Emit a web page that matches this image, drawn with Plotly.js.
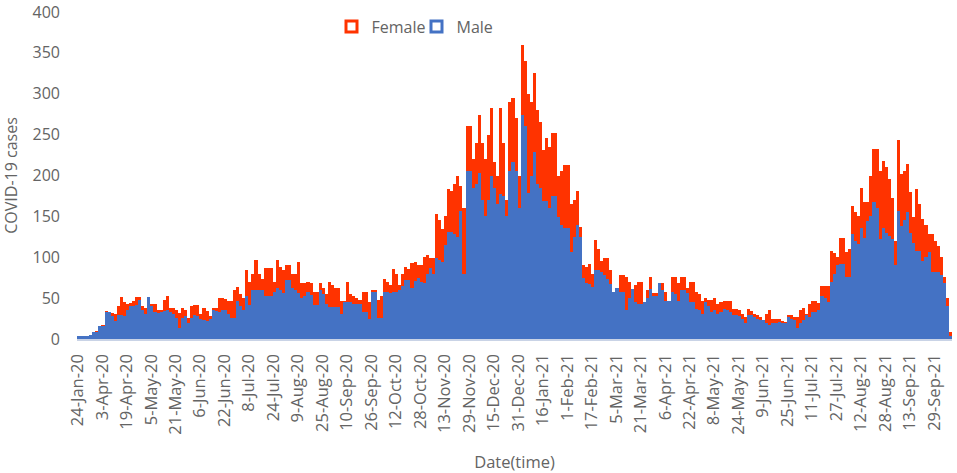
<!DOCTYPE html>
<html>
<head>
<meta charset="utf-8">
<script src="https://cdn.plot.ly/plotly-3.0.1.min.js"></script>
<style>html,body{margin:0;padding:0;background:#fff;}#chart{width:957px;height:473px;}</style>
</head>
<body>
<div id="chart"></div>
<script>
// Daily case counts in 2-day periods (one value per period)
const male = [
4,4,4,4,5,8,8,16,16,33,
33,28,22,29,29,28,36,40,40,41,
48,35,30,51,40,33,32,33,34,35,
33,31,26,13,26,28,19,26,29,28,
25,23,22,24,35,34,33,35,35,30,
26,26,47,40,35,52,42,60,60,60,
60,52,52,52,58,63,60,56,72,72,
62,60,56,50,52,57,54,42,42,60,
55,43,39,39,39,39,30,45,45,45,
43,43,43,33,33,25,57,57,26,26,
57,57,56,57,57,60,65,72,72,63,
71,75,70,68,80,87,80,99,97,94,
115,131,131,128,125,156,80,205,205,185,
190,203,170,151,170,200,185,165,177,175,
150,205,216,205,160,274,260,178,200,229,
190,185,169,169,160,175,175,149,140,136,
136,106,125,140,125,75,68,67,64,85,
84,82,78,74,67,58,63,58,58,35,
50,61,45,43,43,45,50,61,52,52,
68,60,47,47,58,55,47,60,60,56,
45,45,37,35,31,45,40,33,35,31,
33,37,35,33,29,29,28,25,19,29,
29,27,25,23,23,20,17,19,20,21,
19,19,27,25,23,13,20,23,29,27,
33,33,35,52,50,45,70,80,90,92,
92,76,76,128,120,116,136,124,144,150,
168,160,122,136,130,126,122,90,157,138,
145,155,130,118,108,108,96,100,106,82,
82,82,78,68,40,4
];
const female = [
0,0,0,0,0,0,2,0,1,1,
0,4,8,11,22,17,7,4,6,10,
3,5,8,0,3,10,4,2,14,18,
5,7,10,19,12,8,7,14,13,14,
5,15,12,4,3,4,17,15,14,16,
20,34,17,15,15,32,28,20,37,20,
14,35,35,35,12,34,28,29,18,18,
18,20,38,18,16,13,14,15,15,8,
7,12,31,27,23,23,17,2,25,10,
10,7,5,24,24,20,3,3,22,26,
17,13,10,29,23,6,15,16,14,30,
23,15,20,32,23,12,19,54,48,41,
35,52,50,62,74,31,80,55,55,35,
50,71,70,69,80,82,31,35,105,65,
20,85,79,65,40,86,80,122,90,96,
90,81,62,77,75,77,77,50,65,77,
77,59,45,41,12,15,20,25,16,36,
26,14,21,25,18,0,0,20,20,41,
20,0,21,27,27,0,10,15,4,4,
0,8,11,0,18,21,21,16,16,7,
25,25,21,20,16,5,8,15,15,12,
12,10,12,14,8,8,7,6,8,8,
5,4,4,4,0,10,19,6,5,3,
3,2,2,4,4,14,15,15,2,16,
13,13,9,13,15,20,38,25,10,32,
32,30,34,35,35,35,49,44,24,50,
64,72,84,82,80,70,50,30,87,64,
60,59,50,31,75,57,51,40,22,46,
38,32,22,8,10,4
];
const tickLabels = ["24-Jan-20","3-Apr-20","19-Apr-20","5-May-20","21-May-20","6-Jun-20","22-Jun-20","8-Jul-20","24-Jul-20","9-Aug-20","25-Aug-20","10-Sep-20","26-Sep-20","12-Oct-20","28-Oct-20","13-Nov-20","29-Nov-20","15-Dec-20","31-Dec-20","16-Jan-21","1-Feb-21","17-Feb-21","5-Mar-21","21-Mar-21","6-Apr-21","22-Apr-21","8-May-21","24-May-21","9-Jun-21","25-Jun-21","11-Jul-21","27-Jul-21","12-Aug-21","28-Aug-21","13-Sep-21","29-Sep-21"];
const yTicks = [0,50,100,150,200,250,300,350,400];
const daysPerBar = 2;
const daysPerTick = 16;

const x = male.map((_, i) => i * daysPerBar + (daysPerBar - 1) / 2);
const nDays = male.length * daysPerBar;
const tickVals = tickLabels.map((_, k) => k * daysPerTick);

const RED = '#FF3300', BLUE = '#4472C4', TXT = '#646464';
const FONT = 'Open Sans, Liberation Sans, sans-serif';

const traces = [
  {type:'bar', x:x, y:male, width:daysPerBar, marker:{color:BLUE, line:{width:0}}, showlegend:false, name:'Male', hoverinfo:'y'},
  {type:'bar', x:x, y:female, width:daysPerBar, marker:{color:RED, line:{width:0}}, showlegend:false, name:'Female', hoverinfo:'y'},
  {type:'scatter', mode:'markers', x:[null], y:[null], name:'Female',
   marker:{symbol:'square-open', size:11, color:RED, line:{width:3, color:RED}}},
  {type:'scatter', mode:'markers', x:[null], y:[null], name:'Male',
   marker:{symbol:'square-open', size:11, color:BLUE, line:{width:3, color:BLUE}}}
];

const layout = {
  width:957, height:473,
  margin:{l:77, r:5, t:12, b:134},
  paper_bgcolor:'#fff', plot_bgcolor:'#fff',
  barmode:'stack', bargap:0,
  font:{family:FONT, color:TXT, size:16},
  showlegend:true,
  legend:{orientation:'h', x:0.388, xanchor:'center', y:0.955, yanchor:'middle',
          entrywidth:40, entrywidthmode:'pixels',
          font:{family:FONT, size:16, color:TXT}, bgcolor:'rgba(0,0,0,0)', itemwidth:30, traceorder:'normal'},
  xaxis:{
    range:[-0.5, nDays - 0.5], tickmode:'array', tickvals:tickVals, ticktext:tickLabels,
    tickangle:-90, ticks:'', showgrid:false, zeroline:false,
    showline:true, linecolor:'#c9d3e6', linewidth:1.5,
    tickfont:{family:FONT, size:16.5, color:TXT}, ticklabelstandoff:7,
    title:{text:'Date(time)', font:{family:FONT, size:16.5, color:TXT}, standoff:22},
    automargin:false, fixedrange:true
  },
  yaxis:{
    range:[0, 400], tickmode:'array', tickvals:yTicks,
    ticks:'', showgrid:false, zeroline:false, showline:false, ticklabeloverflow:'allow',
    tickfont:{family:FONT, size:16, color:TXT}, ticklabelstandoff:16,
    title:{text:'COVID-19 cases', font:{family:FONT, size:16, color:TXT}, standoff:10},
    automargin:false, fixedrange:true
  }
};

Plotly.newPlot('chart', traces, layout, {displayModeBar:false, staticPlot:true});
</script>
</body>
</html>
